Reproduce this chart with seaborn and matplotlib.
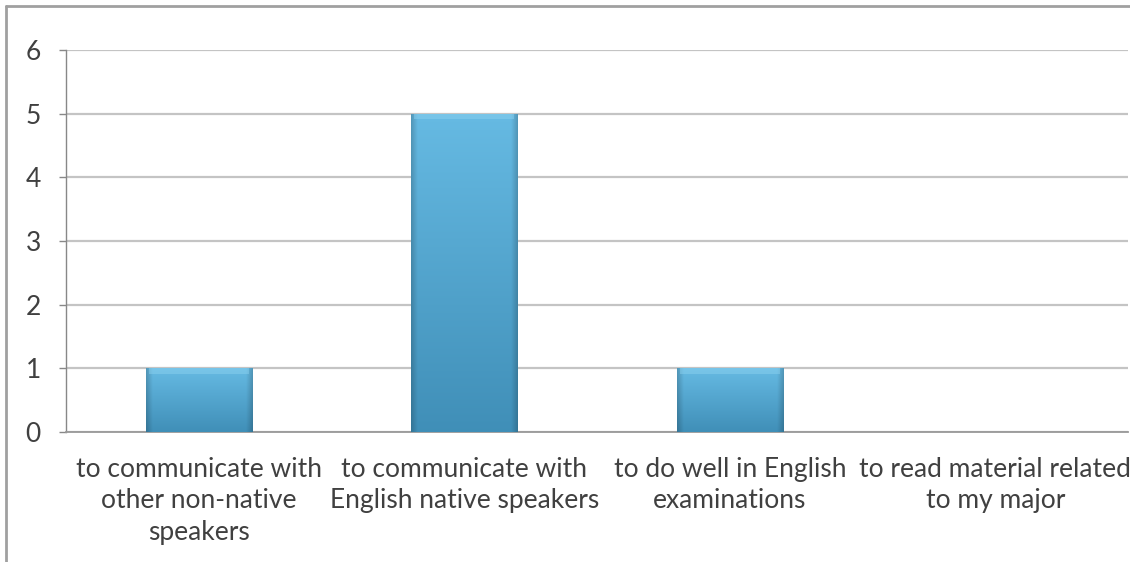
import numpy as np
import pandas as pd
import matplotlib
matplotlib.use("Agg")
import matplotlib.pyplot as plt
import seaborn as sns
from matplotlib.lines import Line2D

categories = [
    "to communicate with\nother non-native\nspeakers",
    "to communicate with\nEnglish native speakers",
    "to do well in English\nexaminations",
    "to read material related\nto my major",
]
values = [1, 5, 1, 0]
yticks = [0, 1, 2, 3, 4, 5, 6]

sns.set_theme(style="white")
plt.rcParams["font.family"] = ["Lato", "DejaVu Sans"]

fig = plt.figure(figsize=(11.3, 5.62), dpi=100)
W, H = 1130, 562
ax = fig.add_axes([66 / W, 1 - 432 / H, (1128 - 66) / W, (432 - 50) / H])

df = pd.DataFrame({"cat": categories, "val": values})
sns.barplot(data=df, x="cat", y="val", ax=ax, color="#4fa6d0", width=0.4,
            edgecolor="none", linewidth=0, zorder=3)

ax.set_xlim(-0.5, len(categories) - 0.5)
ax.set_ylim(0, 6)
ax.set_yticks(yticks)
ax.set_yticklabels([str(t) for t in yticks], fontsize=19, color="#404040")
ax.set_xlabel("")
ax.set_ylabel("")
ax.tick_params(axis="x", which="major", length=0, pad=18, labelsize=19, labelcolor="#404040")
for lbl in ax.get_xticklabels():
    lbl.set_linespacing(1.32)
ax.set_xticks(np.arange(len(categories) + 1) - 0.5, minor=True)
ax.tick_params(axis="x", which="minor", length=5, width=1, color="#888888", direction="out")
ax.tick_params(axis="y", length=5, width=1, color="#888888", direction="out", pad=13, left=True)

ax.yaxis.grid(True, color="#c4c4c4", linewidth=1.6, zorder=0)
ax.xaxis.grid(False)
for s in ["top", "right"]:
    ax.spines[s].set_visible(False)
ax.spines["left"].set_color("#888888")
ax.spines["left"].set_linewidth(1)
ax.spines["bottom"].set_color("#999999")
ax.spines["bottom"].set_linewidth(1.3)
ax.set_axisbelow(True)

# gradient / bevel fill on each bar
ny, nx = 200, 100
yy = np.linspace(0, 1, ny)[:, None]  # 0 top -> 1 bottom
xx = np.linspace(0, 1, nx)[None, :]
top = np.array([0.40, 0.73, 0.89])
bot = np.array([0.25, 0.56, 0.72])
base = top[None, None, :] * (1 - yy[..., None]) + bot[None, None, :] * yy[..., None]
edge = np.minimum(xx, 1 - xx)
side = np.clip(edge / 0.06, 0, 1)
shade = 0.82 + 0.18 * side
img = base * shade[..., None]

for p in ax.patches:
    if p.get_height() <= 0:
        continue
    x0, y0 = p.get_x(), p.get_y()
    w, h = p.get_width(), p.get_height()
    im = ax.imshow(img, extent=[x0, x0 + w, y0, y0 + h], aspect="auto",
                   zorder=3.5, interpolation="bilinear")
    im.set_clip_path(p)
    hl = 0.09
    ax.fill_between([x0 + w * 0.03, x0 + w * 0.97], y0 + h - hl, y0 + h,
                    color="#8fd3f0", alpha=0.45, linewidth=0, zorder=3.6)

# outer frame (left and top visible)
fig.add_artist(Line2D([6 / W, 6 / W], [0, 1 - 6 / H], transform=fig.transFigure,
                      color="#a0a0a0", linewidth=2))
fig.add_artist(Line2D([6 / W, 1], [1 - 6 / H, 1 - 6 / H], transform=fig.transFigure,
                      color="#a0a0a0", linewidth=2))

fig.savefig("out.png", dpi=100)
